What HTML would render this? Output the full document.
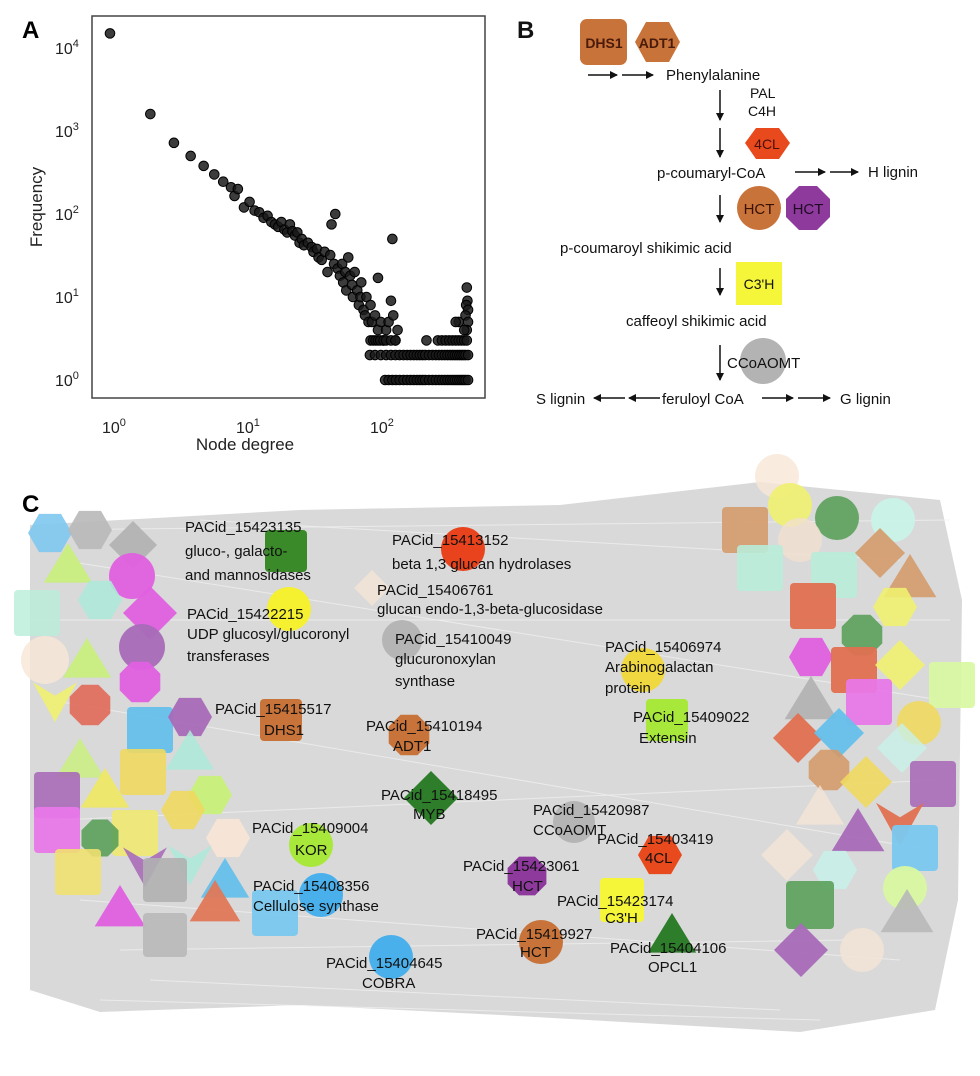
<!DOCTYPE html>
<html><head><meta charset="utf-8">
<style>
html,body{margin:0;padding:0;background:#fff;}
svg{display:block;font-family:"Liberation Sans",Arial,sans-serif;}
</style></head>
<body>
<svg id="fig" width="980" height="1076" viewBox="0 0 980 1076" xmlns="http://www.w3.org/2000/svg">
<defs>
<marker id="ah" markerWidth="8" markerHeight="8" refX="7" refY="4" orient="auto" markerUnits="userSpaceOnUse"><path d="M0,0 L8,4 L0,8 z" fill="#111"/></marker>
</defs>
<!-- Panel A -->
<g id="panelA">
<text x="22" y="38" font-size="24" font-weight="bold">A</text>
<rect x="92" y="16" width="393" height="382" fill="none" stroke="#444" stroke-width="1.5"/>
<g id="ticksA"></g>
<g id="pointsA"></g>
<text x="245" y="450" font-size="17" text-anchor="middle" fill="#222">Node degree</text>
<text transform="translate(42,207) rotate(-90)" font-size="17" text-anchor="middle" fill="#222">Frequency</text>
</g>
<!-- Panel B -->
<g id="panelB" fill="#111">
<text x="517" y="38" font-size="24" font-weight="bold">B</text>
<rect x="580" y="19" width="47" height="46" rx="7" fill="#c8733a"/>
<polygon points="646,22 669,22 680,42 669,62 646,62 635,42" fill="#c8733a"/>
<text x="604" y="48" font-size="14" text-anchor="middle" font-weight="bold" fill="#4a1a0a">DHS1</text>
<text x="657" y="48" font-size="14" text-anchor="middle" font-weight="bold" fill="#4a1a0a">ADT1</text>
<line x1="588" y1="75" x2="617" y2="75" stroke="#111" stroke-width="1.5" marker-end="url(#ah)"/>
<line x1="622" y1="75" x2="653" y2="75" stroke="#111" stroke-width="1.5" marker-end="url(#ah)"/>
<text x="666" y="80" font-size="15">Phenylalanine</text>
<text x="750" y="98" font-size="14">PAL</text>
<text x="748" y="116" font-size="14">C4H</text>
<line x1="720" y1="90" x2="720" y2="120" stroke="#111" stroke-width="1.5" marker-end="url(#ah)"/>
<line x1="720" y1="128" x2="720" y2="157" stroke="#111" stroke-width="1.5" marker-end="url(#ah)"/>
<polygon points="756,128 779,128 790,143 779,159 756,159 745,143" fill="#e8491d"/>
<text x="767" y="149" font-size="14" text-anchor="middle" fill="#4a1008">4CL</text>
<text x="657" y="178" font-size="15">p-coumaryl-CoA</text>
<line x1="795" y1="172" x2="825" y2="172" stroke="#111" stroke-width="1.5" marker-end="url(#ah)"/>
<line x1="830" y1="172" x2="858" y2="172" stroke="#111" stroke-width="1.5" marker-end="url(#ah)"/>
<text x="868" y="177" font-size="15">H lignin</text>
<line x1="720" y1="195" x2="720" y2="222" stroke="#111" stroke-width="1.5" marker-end="url(#ah)"/>
<circle cx="759" cy="208" r="22" fill="#c8733a"/>
<polygon points="799,186 817,186 830,199 830,217 817,230 799,230 786,217 786,199" fill="#8e3a9d"/>
<text x="759" y="214" font-size="15" text-anchor="middle" fill="#3a1005">HCT</text>
<text x="808" y="214" font-size="15" text-anchor="middle" fill="#200a24">HCT</text>
<text x="560" y="253" font-size="15">p-coumaroyl shikimic acid</text>
<line x1="720" y1="268" x2="720" y2="295" stroke="#111" stroke-width="1.5" marker-end="url(#ah)"/>
<rect x="736" y="262" width="46" height="43" fill="#f5f53a"/>
<text x="759" y="289" font-size="14" text-anchor="middle">C3'H</text>
<text x="626" y="326" font-size="15">caffeoyl shikimic acid</text>
<circle cx="763" cy="361" r="23" fill="#b3b3b3"/>
<line x1="720" y1="345" x2="720" y2="380" stroke="#111" stroke-width="1.5" marker-end="url(#ah)"/>
<text x="727" y="368" font-size="15">CCoAOMT</text>
<text x="536" y="404" font-size="15">S lignin</text>
<line x1="625" y1="398" x2="594" y2="398" stroke="#111" stroke-width="1.5" marker-end="url(#ah)"/>
<line x1="660" y1="398" x2="629" y2="398" stroke="#111" stroke-width="1.5" marker-end="url(#ah)"/>
<text x="662" y="404" font-size="15">feruloyl CoA</text>
<line x1="762" y1="398" x2="793" y2="398" stroke="#111" stroke-width="1.5" marker-end="url(#ah)"/>
<line x1="798" y1="398" x2="830" y2="398" stroke="#111" stroke-width="1.5" marker-end="url(#ah)"/>
<text x="840" y="404" font-size="15">G lignin</text>
</g>
<!-- Panel C -->
<g id="panelC">
<text x="22" y="512" font-size="24" font-weight="bold">C</text>
<path d="M30,525 L300,510 L560,505 L760,482 L940,500 L962,600 L958,900 L935,1010 L800,1032 L500,1015 L300,1005 L100,1012 L30,990 Z" fill="#d9d9d9"/>
<g id="edgesC"></g>
<g id="nodesC"></g>
<g id="labelsC" font-size="15" fill="#111"></g>
</g>
</svg>
<script>
// ---- Panel A data ----
const degrees = [1,2,3,4,5,6,7,8,8.5,9,10,11,12,13,14,15,16,17,18,19,20,21,22,23,24,25,26,27,28,30,32,33,35,36,38,40,42,44,45,47,48,50,52,54,55,57,58,60,62,64,65,67,70,72,74,75,78,80,82,85,88,90,95,100,100,105,110,115,120,125,128,130,135,140,
88,92,96,100,104,110,115,125,135,230,280,300,320,340,360,380,400,420,440,460,
460,465,455,470,450,470,460,440,400,380,
87,95,105,115,125,135,145,155,165,175,185,195,205,215,225,240,255,270,285,300,315,330,345,360,375,390,405,420,435,450,470,
113,120,128,136,145,155,165,175,185,195,205,215,225,240,255,270,285,300,315,330,345,360,375,390,405,420,435,450,470];
const frequencies = [15000,1600,720,500,380,300,245,210,165,200,120,140,110,105,90,95,80,75,70,80,65,60,75,62,55,60,45,50,42,45,40,35,38,30,28,35,20,32,75,25,100,22,18,25,15,20,12,30,18,14,10,20,12,8,10,15,7,6,10,5,8,5,6,4,17,5,3,4,5,9,50,6,3,4,
3,3,3,3,3,3,3,3,3,3,3,3,3,3,3,3,3,3,3,3,
13,9,8,7,6,5,4,4,5,5,
2,2,2,2,2,2,2,2,2,2,2,2,2,2,2,2,2,2,2,2,2,2,2,2,2,2,2,2,2,2,2,
1,1,1,1,1,1,1,1,1,1,1,1,1,1,1,1,1,1,1,1,1,1,1,1,1,1,1,1,1];
const xTicks = [1,10,100];
const yTicks = [1,10,100,1000,10000];
const xTickExp = ["0","1","2"];
const yTickExp = ["0","1","2","3","4"];
const NS="http://www.w3.org/2000/svg";
function mk(tag,attrs,parent){const e=document.createElementNS(NS,tag);for(const k in attrs)e.setAttribute(k,attrs[k]);if(parent)parent.appendChild(e);return e;}
const xS = d => 110 + 134*Math.log10(d);
const yS = f => 380 - 83*Math.log10(f);
const tA=document.getElementById('ticksA');
xTicks.forEach((t,i)=>{
  const g=mk('text',{x:xS(t)-8,y:433,'font-size':16,fill:'#222'},tA);
  
  
  g.textContent='10';
  const s=mk('tspan',{dy:-7,'font-size':11},g);s.textContent=xTickExp[i];
});
yTicks.forEach((t,i)=>{
  const g=mk('text',{x:55,y:yS(t)+6,'font-size':16,fill:'#222'},tA);
  
  
  g.textContent='10';
  const s=mk('tspan',{dy:-7,'font-size':11},g);s.textContent=yTickExp[i];
});
const pA=document.getElementById('pointsA');
degrees.forEach((d,i)=>{
  const c=mk('circle',{cx:xS(d),cy:yS(frequencies[i]),r:4.8,fill:'#1a1a1a',stroke:'#000','stroke-width':1,'fill-opacity':0.85},pA);
  
  
});
// ---- Panel C ----
const ed=document.getElementById('edgesC');
const edgePairs=[[40,530,950,520],[60,560,940,700],[50,700,930,850],[80,900,900,960],[100,1000,820,1020],[200,520,900,560],[150,980,780,1010],[30,620,950,620],[60,820,940,780],[120,950,850,940]];
edgePairs.forEach(p=>{const l=mk('line',{x1:p[0],y1:p[1],x2:p[2],y2:p[3],stroke:'#f2f2f2','stroke-width':1,'stroke-opacity':0.7},ed);

});
// node: shape, cx, cy, size, color, opacity
const nodes=[
['hex',50,533,22,'#7ec8ef',0.9],['hex',90,530,22,'#b8b8b8',0.9],['dia',133,545,24,'#b0b0b0',0.9],['tri',68,565,22,'#c8f07a',0.9],
['cir',132,576,23,'#e060e0',0.95],['sq',37,613,23,'#b8ecd8',0.8],['hex',100,600,22,'#aee8d8',0.9],['dia',150,613,27,'#e060e0',0.95],
['cir',142,647,23,'#a86cb8',0.95],['cir',45,660,24,'#f8e6d6',0.8],['tri',87,660,22,'#c8f07a',0.9],['oct',140,682,22,'#e060e0',0.95],
['vee',55,700,22,'#f0f070',0.9],['oct',90,705,22,'#e07060',0.95],['sq',150,730,23,'#66c0ec',0.95],['hex',190,717,22,'#a86cb8',0.95],
['tri',190,752,22,'#aee8d8',0.9],['sq',143,772,23,'#f0d860',0.9],['tri',80,760,22,'#c8f07a',0.8],['sq',57,795,23,'#a86cb8',0.9],
['sq',57,830,23,'#e878e8',0.95],['tri',105,790,22,'#f0e860',0.9],['sq',135,833,23,'#f0e870',0.9],['hex',210,795,22,'#c8f07a',0.95],
['hex',183,810,22,'#f0d860',0.9],['oct',100,838,20,'#5aa05a',0.9],['sq',78,872,23,'#f0e070',0.9],['vee',145,865,22,'#a86cb8',0.9],
['hex',228,838,22,'#f8e6d6',0.9],['vee',190,863,22,'#aee8d8',0.9],['sq',165,880,22,'#b0b0b0',0.9],['tri',225,880,22,'#66c0ec',0.95],
['tri',120,908,23,'#e060e0',0.95],['tri',215,903,23,'#e07858',0.95],['sq',275,913,23,'#7ac8f0',0.95],['sq',165,935,22,'#b8b8b8',0.9],
['cir',777,476,22,'#f8e6d6',0.8],['cir',790,505,22,'#f0f070',0.9],['sq',745,530,23,'#d49a6a',0.9],['cir',837,518,22,'#5aa05a',0.9],
['cir',893,520,22,'#c8f4e8',0.9],['cir',800,540,22,'#f0e0d0',0.8],['sq',760,568,23,'#b8ecd8',0.9],['sq',834,575,23,'#b8ecd8',0.9],
['dia',880,553,25,'#d49a6a',0.9],['tri',910,578,24,'#d49a6a',0.9],['sq',813,606,23,'#e07050',0.95],['hex',895,607,22,'#f0f070',0.9],
['oct',862,635,22,'#5aa05a',0.9],['hex',811,657,22,'#e060e0',0.95],['sq',854,670,23,'#e07050',0.95],['dia',900,665,25,'#f0f070',0.9],
['sq',952,685,23,'#d8f8a0',0.9],['sq',869,702,23,'#e878e8',0.95],['tri',811,700,24,'#b0b0b0',0.9],['cir',919,723,22,'#f0d860',0.9],
['dia',798,738,25,'#e07050',0.95],['dia',839,733,25,'#66c0ec',0.95],['dia',902,748,25,'#c8f0e8',0.8],['oct',829,770,22,'#d49a6a',0.9],
['sq',933,784,23,'#a86cb8',0.9],['dia',866,782,26,'#f0d860',0.9],['tri',820,807,22,'#f4e4d4',0.8],['vee',900,822,24,'#e07050',0.95],
['tri',858,832,24,'#a86cb8',0.95],['sq',915,848,23,'#7ac8f0',0.95],['dia',787,855,26,'#f4e4d4',0.8],['hex',835,870,22,'#c8f0e8',0.9],
['cir',905,888,22,'#d8f8a0',0.95],['sq',810,905,24,'#5aa05a',0.9],['tri',907,913,24,'#b8b8b8',0.9],['dia',801,950,27,'#a86cb8',0.95],
['cir',862,950,22,'#f4e4d4',0.8],
['sq',286,551,21,'#3a8a2a',1],['cir',463,549,22,'#e8431c',1],['cir',289,609,22,'#f5f030',1],['cir',402,640,20,'#b5b5b5',1],
['dia',372,588,18,'#f4e4d4',0.8],['cir',643,670,22,'#f0d840',1],['sq',667,720,21,'#a8e83a',1],['sq',281,720,21,'#c8733a',1],
['oct',409,735,22,'#c8733a',1],['dia',431,798,27,'#2e7d2a',1],['cir',574,822,21,'#b5b5b5',1],['cir',311,845,22,'#a8e83a',1],
['hex',660,855,22,'#e8491d',1],['oct',527,876,21,'#8e3a9d',1],['cir',321,895,22,'#4ab0ec',1],['sq',622,900,22,'#f5f53a',1],
['cir',541,942,22,'#c8733a',1],['tri',672,935,22,'#2e7d2a',1],['cir',391,957,22,'#4ab0ec',1]
];
const nd=document.getElementById('nodesC');
function poly(n,cx,cy,r,rot){let p=[];for(let i=0;i<n;i++){const a=rot+i*2*Math.PI/n;p.push((cx+r*Math.cos(a)).toFixed(1)+','+(cy+r*Math.sin(a)).toFixed(1));}return p.join(' ');}
nodes.forEach(n=>{
  const [t,x,y,s,c,o]=n; let e;
  if(t==='cir') e=mk('circle',{cx:x,cy:y,r:s},nd);
  else if(t==='sq') e=mk('rect',{x:x-s,y:y-s,width:2*s,height:2*s,rx:4},nd);
  else if(t==='hex') e=mk('polygon',{points:poly(6,x,y,s,0)},nd);
  else if(t==='oct') e=mk('polygon',{points:poly(8,x,y,s,Math.PI/8)},nd);
  else if(t==='dia') e=mk('polygon',{points:`${x},${y-s} ${x+s},${y} ${x},${y+s} ${x-s},${y}`},nd);
  else if(t==='tri') e=mk('polygon',{points:`${x},${y-s} ${x+s*1.1},${y+s*0.8} ${x-s*1.1},${y+s*0.8}`},nd);
  else e=mk('polygon',{points:`${x-s},${y-s*0.8} ${x},${y-s*0.2} ${x+s},${y-s*0.8} ${x},${y+s}`},nd);
  e.setAttribute('fill',c); e.setAttribute('fill-opacity',o);
  
  
});
const labels=[
[185,532,'PACid_15423135'],[185,556,'gluco-, galacto-'],[185,580,'and mannosidases'],
[392,545,'PACid_15413152'],[392,569,'beta 1,3 glucan hydrolases'],
[377,595,'PACid_15406761'],[377,614,'glucan endo-1,3-beta-glucosidase'],
[187,619,'PACid_15422215'],[187,639,'UDP glucosyl/glucoronyl'],[187,661,'transferases'],
[395,644,'PACid_15410049'],[395,664,'glucuronoxylan'],[395,686,'synthase'],
[605,652,'PACid_15406974'],[605,672,'Arabinogalactan'],[605,693,'protein'],
[215,714,'PACid_15415517'],[264,735,'DHS1'],
[366,731,'PACid_15410194'],[393,751,'ADT1'],
[633,722,'PACid_15409022'],[639,743,'Extensin'],
[381,800,'PACid_15418495'],[413,819,'MYB'],
[533,815,'PACid_15420987'],[533,835,'CCoAOMT'],
[597,844,'PACid_15403419'],[645,863,'4CL'],
[252,833,'PACid_15409004'],[295,855,'KOR'],
[463,871,'PACid_15423061'],[512,891,'HCT'],
[253,891,'PACid_15408356'],[253,911,'Cellulose synthase'],
[557,906,'PACid_15423174'],[605,923,"C3'H"],
[476,939,'PACid_15419927'],[520,957,'HCT'],
[610,953,'PACid_15404106'],[648,972,'OPCL1'],
[326,968,'PACid_15404645'],[362,988,'COBRA']
];
const lb=document.getElementById('labelsC');
labels.forEach(l=>{const e=mk('text',{x:l[0],y:l[1]},lb);e.textContent=l[2];

});
</script>
</body></html>
